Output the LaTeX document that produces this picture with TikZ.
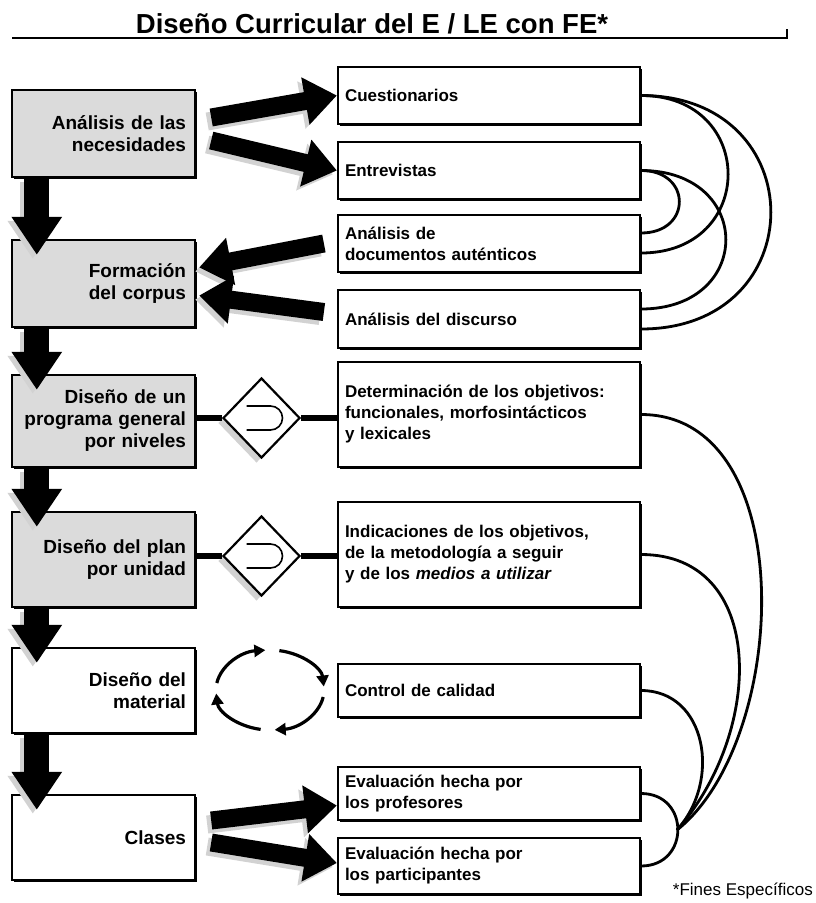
\documentclass[tikz,border=0pt]{standalone}
\usepackage{fontspec}
\setmainfont{Liberation Sans}
\usetikzlibrary{arrows.meta,calc,shapes.geometric,shadows}

\tikzset{
  ttl/.style={font=\fontsize{27.5}{30}\selectfont\bfseries, anchor=base, inner sep=0pt},
  lbox/.style={draw, line width=2.4pt, fill=gray!28, minimum width=183pt, text width=165pt,
    align=right, inner sep=0pt, font=\fontsize{19}{22}\selectfont\bfseries,
    drop shadow={shadow xshift=2pt, shadow yshift=-2pt, fill=black, opacity=1}},
  wbox/.style={lbox, fill=white},
  rbox/.style={draw, line width=2.2pt, fill=white, minimum width=302pt, text width=288pt,
    align=left, inner sep=0pt, font=\fontsize{17}{21}\selectfont\bfseries,
    drop shadow={shadow xshift=2pt, shadow yshift=-2pt, fill=black, opacity=1}},
  choice/.style={diamond, draw, line width=2.2pt, fill=white, minimum width=77pt,
    minimum height=80pt, inner sep=0pt,
    drop shadow={shadow xshift=-5pt, shadow yshift=-5pt, fill=gray!35, opacity=1}},
  bigarrow/.style={line width=18pt, -{Triangle[width=46pt,length=32pt]}},
  downarrow/.style={line width=25pt, -{Triangle[width=48pt,length=38pt]}},
  stipple/.style={draw=gray!35, transform canvas={shift={(-4pt,-4pt)}}},
  bar/.style={line width=6pt},
  link/.style={line width=2.8pt},
  cycarrow/.style={line width=3.2pt, -{Triangle[width=12pt,length=11pt]}},
}

\begin{document}
\begin{tikzpicture}[x=1pt,y=-1pt]
\useasboundingbox (0,0) rectangle (815,903);

% title
\node[ttl] (title) at (372,33) {Diseño Curricular del E / LE con FE*};
\draw[line width=1.8pt] (12,38) -- (787,38) -- (787,29);

% left column
\node[lbox,minimum height=87pt] (nec) at (103.5,133.5) {Análisis de las\\necesidades};
\node[lbox,minimum height=87pt] (corp) at (103.5,283.5) {Formación\\del corpus};
\node[lbox,minimum height=92pt] (prog) at (103.5,421) {Diseño de un\\programa general\\por niveles};
\node[lbox,minimum height=95pt] (plan) at (103.5,559.5) {Diseño del plan\\por unidad};
\node[wbox,minimum height=85pt] (mat) at (103.5,690.5) {Diseño del\\material};
\node[wbox,minimum height=85pt] (cls) at (103.5,837.5) {Clases};

% right column
\node[rbox,minimum height=57pt] (cues) at (489,95.5) {Cuestionarios};
\node[rbox,minimum height=57pt] (entr) at (489,170.5) {Entrevistas};
\node[rbox,minimum height=57pt] (docs) at (489,243.5) {Análisis de\\documentos auténticos};
\node[rbox,minimum height=58pt] (disc) at (489,319) {Análisis del discurso};
\node[rbox,minimum height=105pt] (det) at (489,414.5) {Determinación de los objetivos:\\funcionales, morfosintácticos\\y lexicales};
\node[rbox,minimum height=105pt] (ind) at (489,554.5) {Indicaciones de los objetivos,\\de la metodología a seguir\\y de los \textit{medios a utilizar}};
\node[rbox,minimum height=53pt] (ctrl) at (489,690.5) {Control de calidad};
\node[rbox,minimum height=53pt] (prof) at (489,793.5) {Evaluación hecha por\\los profesores};
\node[rbox,minimum height=56pt] (part) at (489,866) {Evaluación hecha por\\los participantes};

% down arrows
\foreach \a/\b in {nec/corp,corp/prog,prog/plan,plan/mat,mat/cls}{
  \draw[downarrow,stipple] ($(\a.south west)+(26,0)$) -- ($(\b.north west)+(26,16)$);
  \draw[downarrow] ($(\a.south west)+(26,0)$) -- ($(\b.north west)+(26,16)$);
}

% side arrows
\draw[bigarrow,stipple] ($(nec.east)+(15,-16)$) -- (cues.west);
\draw[bigarrow,stipple] ($(nec.east)+(15,7)$) -- (entr.west);
\draw[bigarrow,stipple] ($(docs.west)+(-13,0)$) -- ($(corp.east)+(3,-16)$);
\draw[bigarrow,stipple] ($(disc.west)+(-13,-7)$) -- ($(corp.east)+(3,12)$);
\draw[bigarrow,stipple] ($(cls.east)+(15,-17)$) -- ($(prof.west)+(0,12)$);
\draw[bigarrow,stipple] ($(cls.east)+(15,5)$) -- ($(part.west)+(0,-3)$);
\draw[bigarrow] ($(nec.east)+(15,-16)$) -- (cues.west);
\draw[bigarrow] ($(nec.east)+(15,7)$) -- (entr.west);
\draw[bigarrow] ($(docs.west)+(-13,0)$) -- ($(corp.east)+(3,-16)$);
\draw[bigarrow] ($(disc.west)+(-13,-7)$) -- ($(corp.east)+(3,12)$);
\draw[bigarrow] ($(cls.east)+(15,-17)$) -- ($(prof.west)+(0,12)$);
\draw[bigarrow] ($(cls.east)+(15,5)$) -- ($(part.west)+(0,-3)$);

% diamonds
\node[choice] (dm1) at (261.5,418) {};
\node[choice] (dm2) at (261.5,556) {};
\foreach \d/\l in {dm1/prog,dm2/plan}{
  \draw[bar] (\d.west) -- (\d.west -| \l.east);
  \draw[bar] (\d.east) -- (\d.east -| det.west);
  \draw[line width=1.6pt] ($(\d)+(-15,-12)$) -- ++(24,0) arc[start angle=-90,end angle=90,radius=12] -- ++(-24,0);
}

% cycle
\coordinate (cyc) at (270,690);
\foreach \s in {-170,-80,10,100}
  \draw[cycarrow] ($(cyc)+({54*cos(\s)},{40*sin(\s)})$) arc[start angle=\s,end angle=\s+75,x radius=54,y radius=40];

% links on the right
\draw[link] (cues.east) .. controls +(116,0) and +(116,0) .. ($(docs.east)+(0,9.5)$);
\draw[link] (cues.east) .. controls +(173,0) and +(173,0) .. ($(disc.east)+(0,10)$);
\draw[link] (entr.east) .. controls +(51,0) and +(51,0) .. ($(docs.east)+(0,-10.5)$);
\draw[link] (entr.east) .. controls +(113,0) and +(113,0) .. ($(disc.east)+(0,-10)$);

\coordinate (conv) at (677,830);
\draw[link] (det.east) .. controls +(160,0) and +(113,-90) .. (conv);
\draw[link] (ind.east) .. controls +(125,0) and +(88,-100) .. (conv);
\draw[link] (ctrl.east) .. controls +(65,0) and +(45,-50) .. (conv);
\draw[link] (prof.east) .. controls +(49,0) and +(49,0) .. (part.east);

\node[font=\fontsize{17}{20}\selectfont, anchor=base east, inner sep=0pt] (fn) at (813,895) {*Fines Específicos};
\end{tikzpicture}
\end{document}
